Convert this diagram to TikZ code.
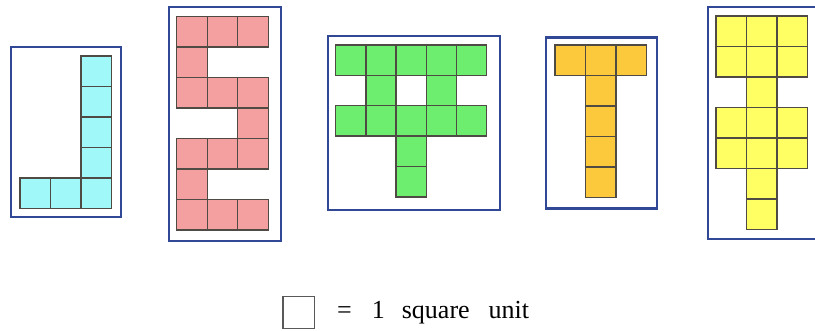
\documentclass[tikz,border=0pt]{standalone}
\usepackage{fontspec}
\setmainfont{Liberation Serif}
\definecolor{frameblue}{RGB}{48, 72, 150}
\definecolor{cellgray}{RGB}{80, 74, 68}
\definecolor{cyan1}{RGB}{160, 248, 248}
\definecolor{pink1}{RGB}{244, 160, 160}
\definecolor{green1}{RGB}{110, 238, 110}
\definecolor{orange1}{RGB}{252, 200, 60}
\definecolor{yellow1}{RGB}{255, 255, 100}
\usetikzlibrary{positioning}

\tikzset{
  frame/.style={draw=frameblue, line width=2.2pt},
  cell/.style={draw=cellgray, line width=1.4pt},
}

\begin{document}
\begin{tikzpicture}[x=1pt, y=-1pt]
  \useasboundingbox (0,0) rectangle (815,331);
  \def\cellsize{30.5}

  % L shape (cyan)
  \draw[frame] (10.7,46.7) rectangle (120.7,216.7);
  \foreach \c/\r in {2/0, 2/1, 2/2, 2/3, 0/4, 1/4, 2/4}
    \draw[cell, fill=cyan1] ({20+\c*\cellsize},{56+\r*\cellsize}) rectangle ++(\cellsize,\cellsize);

  % S shape (pink)
  \draw[frame] (169.3,7.3) rectangle (280.7,240.7);
  \foreach \c/\r in {0/0, 1/0, 2/0, 0/1, 0/2, 1/2, 2/2, 2/3, 0/4, 1/4, 2/4, 0/5, 0/6, 1/6, 2/6}
    \draw[cell, fill=pink1] ({176.7+\c*\cellsize},{16.7+\r*\cellsize}) rectangle ++(\cellsize,\cellsize);

  % double bar shape (green)
  \draw[frame] (328.3,36) rectangle (500,210);
  \foreach \c/\r in {0/0, 1/0, 2/0, 3/0, 4/0, 1/1, 3/1, 0/2, 1/2, 2/2, 3/2, 4/2, 2/3, 2/4}
    \draw[cell, fill=green1] ({335.7+\c*30.2},{45+\r*30.4}) rectangle ++(30.2,30.4);

  % T shape (orange)
  \draw[frame] (546,37.5) rectangle (656.7,208.5);
  \foreach \c/\r in {0/0, 1/0, 2/0, 1/1, 1/2, 1/3, 1/4}
    \draw[cell, fill=orange1] ({555+\c*\cellsize},{45+\r*\cellsize}) rectangle ++(\cellsize,\cellsize);

  % cross shape (yellow)
  \draw[frame] (708.3,7.3) rectangle (830,239.3);
  \foreach \c/\r in {0/0, 1/0, 2/0, 0/1, 1/1, 2/1, 1/2, 0/3, 1/3, 2/3, 0/4, 1/4, 2/4, 1/5, 1/6}
    \draw[cell, fill=yellow1] ({716+\c*\cellsize},{16+\r*\cellsize}) rectangle ++(\cellsize,\cellsize);

  % Legend
  \node[draw=gray!70!black, line width=1.4pt, minimum size=31.5pt, inner sep=0pt] (unitsq) at (298.9,312.5) {};
  \node[anchor=base west, inner sep=0pt, font=\fontsize{26}{31}\selectfont] (legend) at (337,318.5)
    {=\hspace{20pt}1\hspace{17pt}square\hspace{19pt}unit};
\end{tikzpicture}
\end{document}
